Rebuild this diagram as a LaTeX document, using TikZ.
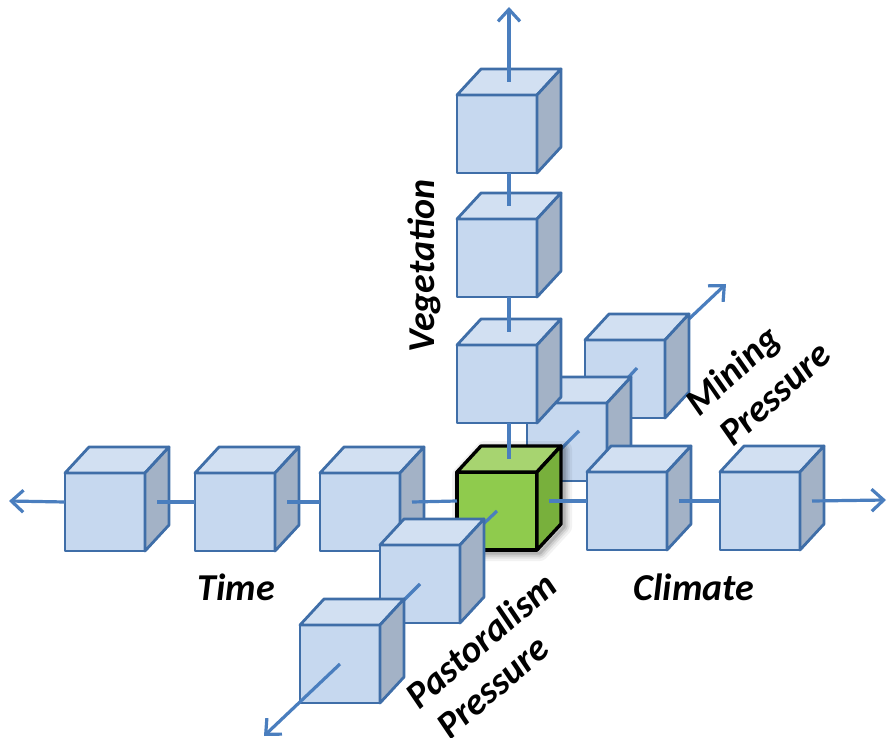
\documentclass[tikz,border=0pt]{standalone}
\usepackage{fontspec}
\setmainfont{Carlito}
\usetikzlibrary{arrows.meta}
\definecolor{cfront}{HTML}{C6D8EF}
\definecolor{ctop}{HTML}{D2E0F2}
\definecolor{cside}{HTML}{A3B2C6}
\definecolor{cedge}{HTML}{3F6EA8}
\definecolor{caxis}{HTML}{4A7EBE}
\definecolor{gfront}{HTML}{8FCB4D}
\definecolor{gtop}{HTML}{A7D470}
\definecolor{gside}{HTML}{78B03C}
\tikzset{
  bluefront/.style={fill=cfront, draw=cedge, line width=2.8pt, line join=round},
  bluetop/.style={fill=ctop, draw=cedge, line width=2.8pt, line join=round},
  blueside/.style={fill=cside, draw=cedge, line width=2.8pt, line join=round},
  greenfront/.style={fill=gfront, draw=black, line width=3.4pt, line join=round},
  greentop/.style={fill=gtop, draw=black, line width=3.4pt, line join=round},
  greenside/.style={fill=gside, draw=black, line width=3.4pt, line join=round},
  axisline/.style={draw=caxis, line width=3.2pt},
  axisarrow/.style={axisline, -{Straight Barb[length=12pt,width=22pt]}},
  lbl/.style={font=\fontsize{38}{44}\selectfont\bfseries\itshape, inner sep=0pt}
}
\newcommand{\defcube}[3]{%
  \coordinate (#1-o) at (#2,#3);
  \coordinate (#1-c) at ({#2+52},{#3+28});
  \coordinate (#1-r) at ({#2+92},{#3+29});
  \coordinate (#1-l) at (#2,{#3+29});
  \coordinate (#1-t) at ({#2+52},{#3-13});
  \coordinate (#1-b) at ({#2+52},{#3+78});
  \coordinate (#1-f) at ({#2+40},{#3+39});
}
\newcommand{\drawcube}[2]{%
  \path[#2front] (#1-o) rectangle ++(80,78);
  \path[#2top] (#1-o) -- ++(24,-26) -- ++(80,0) -- ++(-24,26) -- cycle;
  \path[#2side] ([xshift=80pt]#1-o) -- ++(24,-26) -- ++(0,78) -- ++(-24,26) -- cycle;
}
\begin{document}
\begin{tikzpicture}[x=1pt,y=-1pt]
\useasboundingbox (0,0) rectangle (887,738);
% cube positions (front-face top-left corner)
\defcube{T1}{65}{473}
\defcube{T2}{195}{473}
\defcube{T3}{320}{473}
\defcube{G}{457}{472}
\defcube{C1}{587}{472}
\defcube{C2}{720}{472}
\defcube{V1}{457}{345}
\defcube{V2}{457}{219}
\defcube{V3}{457}{95}
\defcube{M1}{527}{403}
\defcube{M2}{585}{340}
\defcube{P1}{380}{545}
\defcube{P2}{300}{625}
\coordinate (tipL) at (9,501);
\coordinate (tipR) at (886,500);
\coordinate (tipU) at (509,7);
\coordinate (tipM) at (726,284);
\coordinate (tipP) at (264,736);
% mining axis (away from viewer)
\draw[axisarrow] (M2-c) -- (tipM);
\drawcube{M2}{blue}
\draw[axisline] (M1-c) -- (M2-c);
\drawcube{M1}{blue}
\draw[axisline] (G-c) -- (M1-c);
% other blue cubes
\drawcube{C2}{blue}
\drawcube{C1}{blue}
\drawcube{V3}{blue}
\drawcube{V2}{blue}
\drawcube{V1}{blue}
\drawcube{T1}{blue}
\drawcube{T2}{blue}
\drawcube{T3}{blue}
% soft shadow of the green cube
\foreach \w/\op in {16/0.05,11/0.07,7/0.09,3/0.12}{
  \draw[black, opacity=\op, line width=\w pt, line join=round, fill=none]
    ([shift={(3,3)}]G-o) -- ++(0,78) -- ++(80,0) -- ++(24,-26) -- ++(0,-78) -- ++(-80,0) -- cycle;
}
\drawcube{G}{green}
% pastoralism axis (toward viewer)
\draw[axisline] (G-f) -- (P1-f);
\drawcube{P1}{blue}
\draw[axisline] (P1-f) -- (P2-f);
\drawcube{P2}{blue}
\draw[axisarrow] (P2-f) -- (tipP);
% time axis
\draw[axisarrow] (T1-l) -- (tipL);
\draw[axisline] (T1-r) -- (T2-l);
\draw[axisline] (T2-r) -- (T3-l);
\draw[axisline] (T3-r) -- (G-l);
% climate axis
\draw[axisline] (G-r) -- (C1-l);
\draw[axisline] (C1-r) -- (C2-l);
\draw[axisarrow] (C2-r) -- (tipR);
% vegetation axis
\draw[axisline] (G-t) -- (V1-b);
\draw[axisline] (V1-t) -- (V2-b);
\draw[axisline] (V2-t) -- (V3-b);
\draw[axisarrow] (V3-t) -- (tipU);
% labels
\node[lbl] (time) at (236,587) {Time};
\node[lbl] (climate) at (694,587) {Climate};
\node[lbl, rotate=90] (veg) at (424,266) {Vegetation};
\node[lbl, rotate=42] (mining) at (734,372) {Mining};
\node[lbl, rotate=42] (mpress) at (775,394) {Pressure};
\node[lbl, rotate=41] (past) at (481,640) {Pastoralism};
\node[lbl, rotate=41] (ppress) at (493,687) {Pressure};
\end{tikzpicture}
\end{document}
